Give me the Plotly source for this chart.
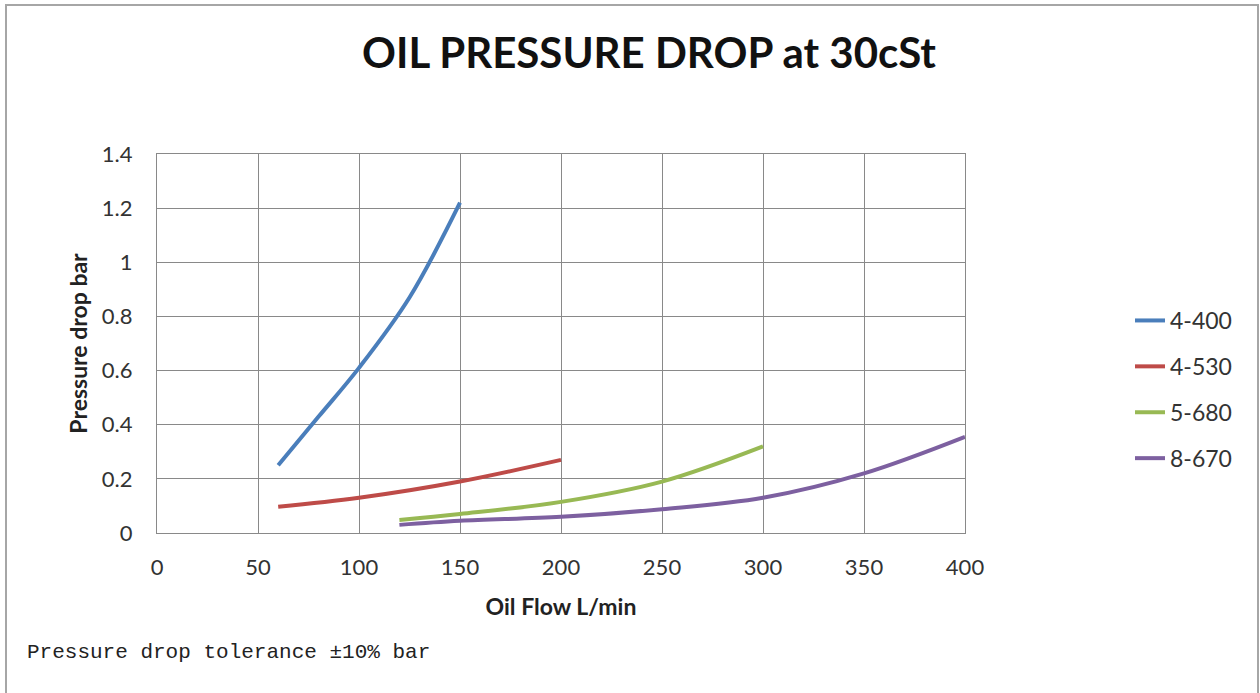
import plotly.graph_objects as go

# ---- data ----
series_names = ["4-400", "4-530", "5-680", "8-670"]
flow_4_400 = [60, 80, 100, 125, 150]
dp_4_400 = [0.25, 0.43, 0.61, 0.87, 1.22]
flow_4_530 = [60, 100, 150, 200]
dp_4_530 = [0.097, 0.13, 0.19, 0.27]
flow_5_680 = [120, 150, 200, 250, 300]
dp_5_680 = [0.048, 0.07, 0.115, 0.19, 0.32]
flow_8_670 = [120, 150, 200, 250, 300, 350, 400]
dp_8_670 = [0.03, 0.045, 0.06, 0.088, 0.13, 0.22, 0.355]
colors = ["#4A7EBB", "#BE4B48", "#98B954", "#7D60A0"]
x_ticks = [0, 50, 100, 150, 200, 250, 300, 350, 400]
y_ticks = [0, 0.2, 0.4, 0.6, 0.8, 1.0, 1.2, 1.4]
y_tick_text = ["0", "0.2", "0.4", "0.6", "0.8", "1", "1.2", "1.4"]

W, H = 1260, 693
L, R, T, B = 157, 965, 154, 533

fig = go.Figure()
xs = [flow_4_400, flow_4_530, flow_5_680, flow_8_670]
ys = [dp_4_400, dp_4_530, dp_5_680, dp_8_670]
for i, name in enumerate(series_names):
    fig.add_trace(go.Scatter(
        x=xs[i], y=ys[i], name=name, mode="lines",
        line=dict(color=colors[i], width=4, shape="spline", smoothing=1.0),
        legendgroup=name,
    ))

font_main = "Lato, 'Open Sans', Arial, sans-serif"
grid = "#898989"

fig.update_layout(
    width=W, height=H,
    margin=dict(l=L, r=W - R, t=T, b=H - B, pad=0),
    paper_bgcolor="white", plot_bgcolor="white",
    font=dict(family=font_main, color="#333333", size=22),
    showlegend=True,
    legend=dict(
        x=(1130 - L) / (R - L), xanchor="left",
        y=(B - 299) / (B - T), yanchor="top",
        font=dict(size=23, color="#333333"),
        tracegroupgap=13, bgcolor="rgba(0,0,0,0)",
    ),
    xaxis=dict(
        range=[0, 400], tickvals=x_ticks, showgrid=True, gridcolor=grid, gridwidth=1.3,
        zeroline=False, showline=True, linecolor=grid, linewidth=1.3, mirror=True,
        ticks="", ticklabelstandoff=14, tickfont=dict(size=22, color="#333333"),
        title=dict(text="<b>Oil Flow L/min</b>", font=dict(size=23, color="#222222"), standoff=20),
        fixedrange=True,
    ),
    yaxis=dict(
        range=[0, 1.4], tickvals=y_ticks, ticktext=y_tick_text, showgrid=True,
        gridcolor=grid, gridwidth=1.3,
        zeroline=False, showline=True, linecolor=grid, linewidth=1.3, mirror=True,
        ticks="", ticklabelstandoff=19, tickfont=dict(size=22, color="#333333"),
        title=dict(text="<b>Pressure drop bar</b>", font=dict(size=23, color="#222222"), standoff=7),
        fixedrange=True,
    ),
)

# chart title
fig.add_annotation(
    text="<b>OIL PRESSURE DROP at 30cSt</b>", xref="paper", yref="paper",
    x=(649 - L) / (R - L), y=(B - 52) / (B - T), xanchor="center", yanchor="middle",
    showarrow=False, font=dict(family=font_main, size=42, color="#111111"),
)

# footnote
fig.add_annotation(
    text="Pressure drop tolerance ±10% bar", xref="paper", yref="paper",
    x=(25 - L) / (R - L), y=(B - 652) / (B - T), xanchor="left", yanchor="middle",
    showarrow=False, font=dict(family="'Liberation Mono', 'DejaVu Sans Mono', monospace", size=21, color="#222222"),
)

# chart-area border (spreadsheet frame)
def px_x(p):
    return (p - L) / (R - L)

def px_y(p):
    return (B - p) / (B - T)

fig.add_shape(type="rect", xref="paper", yref="paper",
              x0=px_x(6), x1=px_x(1258), y0=px_y(720), y1=px_y(5),
              line=dict(color="#a6a6a6", width=2), fillcolor="rgba(0,0,0,0)", layer="below")

fig.write_html("out.html", config={"displayModeBar": False},
               post_script="document.body.style.margin='0px';")
